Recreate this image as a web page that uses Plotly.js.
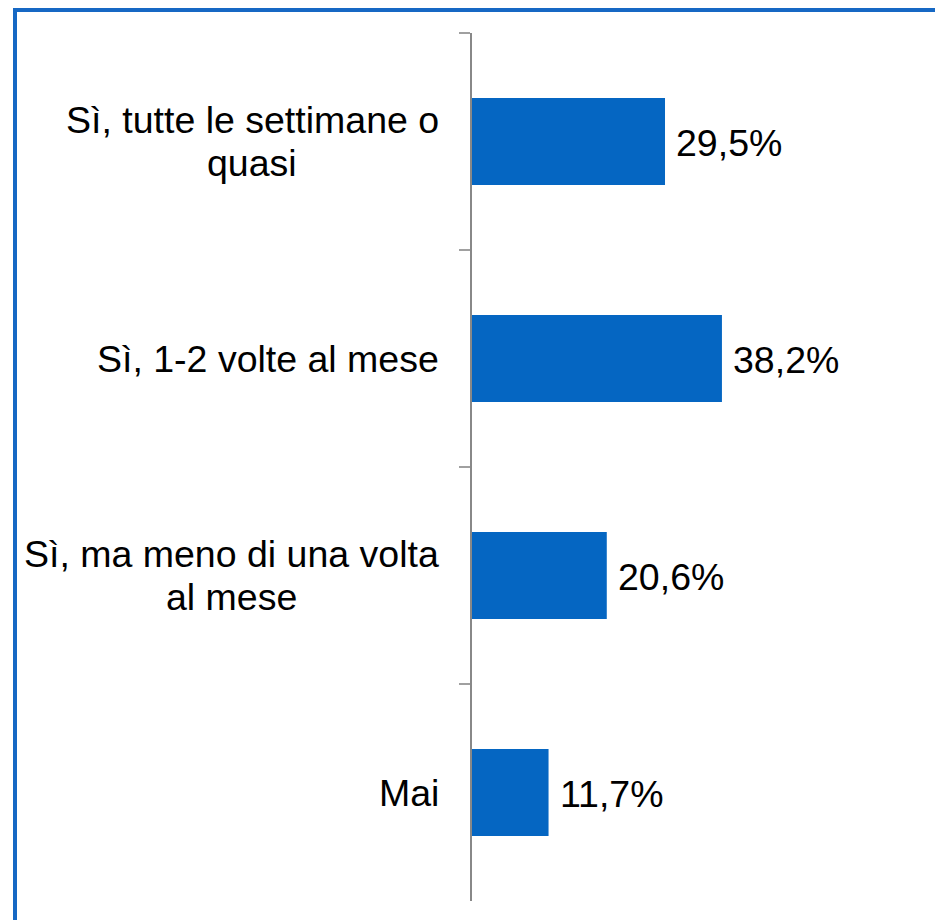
<!DOCTYPE html>
<html>
<head>
<meta charset="utf-8">
<script src="https://cdn.plot.ly/plotly-3.0.1.min.js"></script>
<style>
html,body{margin:0;padding:0;background:#fff;}
#wrap{position:relative;width:935px;height:920px;overflow:hidden;}
#chart{position:absolute;left:0;top:0;width:935px;height:920px;}
#frame{position:absolute;left:13px;top:8px;width:940px;height:930px;border-top:4px solid #1668c4;border-left:4px solid #1668c4;pointer-events:none;}
</style>
</head>
<body>
<div id="wrap"><div id="chart"></div><div id="frame"></div></div>
<script>
const categories = ["Sì, tutte le settimane o<br>quasi", "Sì, 1-2 volte al mese", "Sì, ma meno di una volta<br>al mese", "Mai"];
const values = [29.5, 38.2, 20.6, 11.7];
const valueLabels = ["29,5%", "38,2%", "20,6%", "11,7%"];

const FONT = "Liberation Sans, Arial, Helvetica, sans-serif";
const FSIZE = 37.5;
const LINE_GAP = 43;
const LABEL_RIGHT_SHIFT = -33;

const trace = {
  type: "bar",
  orientation: "h",
  y: categories,
  x: values,
  marker: {color: "#0566c2", line: {width: 0}},
  hoverinfo: "skip"
};

const valueAnn = values.map((v, i) => ({
  x: v, y: categories[i], xref: "x", yref: "y",
  text: valueLabels[i], showarrow: false,
  xanchor: "left", yanchor: "middle", xshift: 9, yshift: -1,
  font: {family: FONT, size: FSIZE, color: "#000"}
}));

// measure text so that each line of a multi-line label is centred on the block
const ctx = document.createElement("canvas").getContext("2d");
ctx.font = FSIZE + "px " + FONT;
const catAnn = [];
categories.forEach((c) => {
  const lines = c.split("<br>");
  const maxW = Math.max(...lines.map((l) => ctx.measureText(l).width));
  const n = lines.length;
  lines.forEach((l, k) => {
    catAnn.push({
      x: 0, y: c, xref: "paper", yref: "y",
      text: l, showarrow: false, align: "center",
      xanchor: "center", yanchor: "middle",
      xshift: LABEL_RIGHT_SHIFT - maxW / 2,
      yshift: ((n - 1) / 2 - k) * LINE_GAP,
      font: {family: FONT, size: FSIZE, color: "#000"}
    });
  });
});

const layout = {
  width: 935, height: 920,
  margin: {l: 472, r: 5, t: 33, b: 19, pad: 0},
  paper_bgcolor: "#ffffff",
  plot_bgcolor: "#ffffff",
  showlegend: false,
  bargap: 0.6,
  font: {family: FONT, size: FSIZE, color: "#000"},
  xaxis: {
    range: [0, 70], visible: false, showgrid: false, zeroline: false, fixedrange: true
  },
  yaxis: {
    type: "category",
    autorange: "reversed",
    showline: true, linecolor: "#888888", linewidth: 2,
    ticks: "outside", tickson: "boundaries", ticklen: 11, tickwidth: 2, tickcolor: "#a0a0a0",
    showticklabels: false,
    showgrid: false, zeroline: false, automargin: false, fixedrange: true
  },
  annotations: valueAnn.concat(catAnn)
};

Plotly.newPlot("chart", [trace], layout, {displayModeBar: false, staticPlot: true});
</script>
</body>
</html>
